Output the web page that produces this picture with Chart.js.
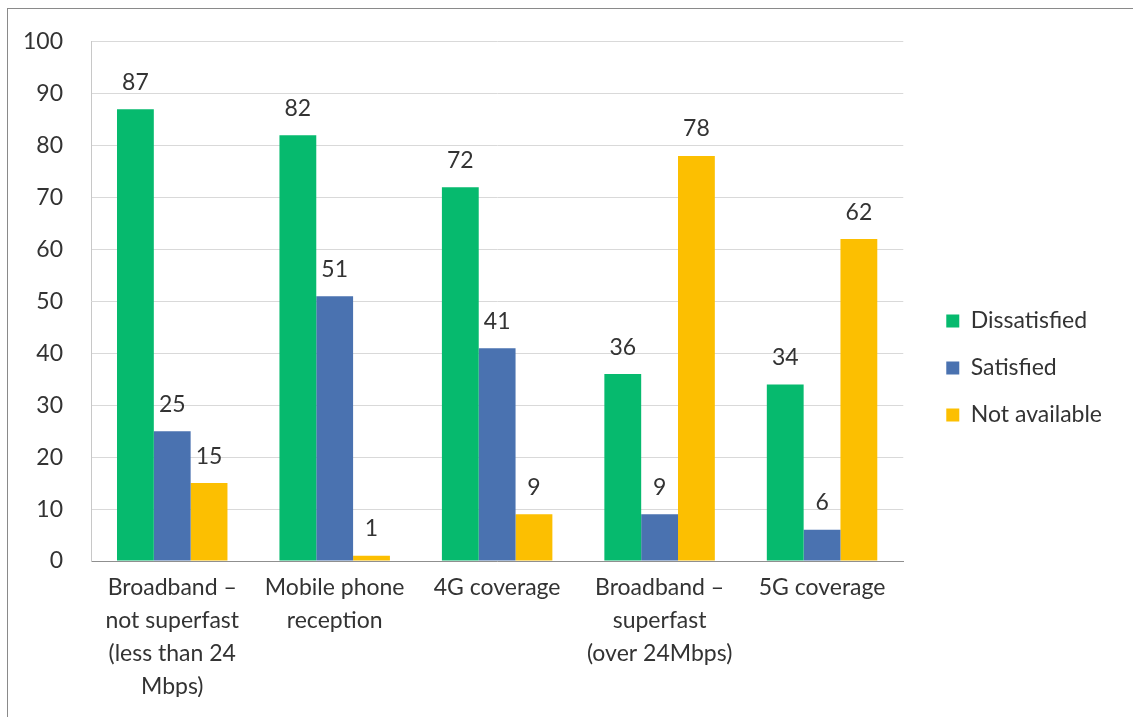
<!DOCTYPE html>
<html>
<head>
<meta charset="utf-8">
<script src="https://cdn.jsdelivr.net/npm/chart.js@4.4.1/dist/chart.umd.min.js"></script>
<style>
  html, body { margin: 0; padding: 0; background: #ffffff; overflow: hidden; }
  #wrap { position: relative; width: 1133px; height: 717px; overflow: hidden; }
  #frame { position: absolute; left: 7px; top: 8px; width: 1400px; height: 1000px; border: 1px solid #8a8a8a; box-sizing: border-box; }
  #c { position: absolute; left: 0; top: 0; }
</style>
</head>
<body>
<div id="wrap">
  <div id="frame"></div>
  <canvas id="c" width="1133" height="717"></canvas>
</div>
<script>
// ---- data ----
const categories = [
  ["Broadband \u2013", "not superfast", "(less than 24", "Mbps)"],
  ["Mobile phone", "reception"],
  ["4G coverage"],
  ["Broadband \u2013", "superfast", "(over 24Mbps)"],
  ["5G coverage"]
];
const seriesNames = ["Dissatisfied", "Satisfied", "Not available"];
const dissatisfied = [87, 82, 72, 36, 34];
const satisfied = [25, 51, 41, 9, 6];
const notAvailable = [15, 1, 9, 78, 62];
const yMin = 0, yMax = 100, yStep = 10;

// ---- styles ----
const FONT = "Lato";
const FS = 23;
const TEXT = "#333333";
const colors = ["#06BA6E", "#4A72B0", "#FCBF01"];

// legend geometry
const legendPad = 24;
const boxW = 13;
const mctx = document.createElement('canvas').getContext('2d');
mctx.font = FS + "px " + FONT;
const maxTextW = Math.max(...seriesNames.map(s => mctx.measureText(s).width));
const legendW = legendPad + boxW + FS / 2 + maxTextW + 10;
const legendLeft = 917;
const padRight = Math.max(0, 1133 - legendLeft - legendW);

const valueLabels = {
  id: 'valueLabels',
  afterDatasetsDraw(chart) {
    const ctx = chart.ctx;
    ctx.save();
    ctx.font = FS + "px " + FONT;
    ctx.fillStyle = TEXT;
    ctx.textAlign = 'center';
    ctx.textBaseline = 'middle';
    chart.data.datasets.forEach((ds, i) => {
      const meta = chart.getDatasetMeta(i);
      meta.data.forEach((bar, j) => {
        ctx.fillText(String(ds.data[j]), bar.x, bar.y - 27);
      });
    });
    ctx.restore();
  }
};

new Chart(document.getElementById('c'), {
  type: 'bar',
  data: {
    labels: categories,
    datasets: [
      { label: seriesNames[0], data: dissatisfied, backgroundColor: colors[0] },
      { label: seriesNames[1], data: satisfied, backgroundColor: colors[1] },
      { label: seriesNames[2], data: notAvailable, backgroundColor: colors[2] }
    ]
  },
  options: {
    responsive: false,
    animation: false,
    devicePixelRatio: 1,
    datasets: { bar: { categoryPercentage: 0.68, barPercentage: 1.0, borderWidth: 0 } },
    layout: { padding: { top: 39, bottom: 20, left: 0, right: padRight } },
    plugins: {
      tooltip: { enabled: false },
      legend: {
        position: 'right',
        align: 'center',
        labels: {
          boxWidth: boxW,
          boxHeight: boxW,
          padding: legendPad,
          color: TEXT,
          font: { family: FONT, size: FS }
        }
      }
    },
    scales: {
      x: {
        grid: { display: false, drawTicks: false },
        border: { display: true, color: '#8f8f8f', width: 1 },
        ticks: {
          color: TEXT,
          padding: 10,
          maxRotation: 0,
          autoSkip: false,
          font: { family: FONT, size: FS, lineHeight: '33px' }
        },
        afterFit(s) { s.height = 136; }
      },
      y: {
        min: yMin,
        max: yMax,
        grid: { color: '#d9d9d9', lineWidth: 1, drawTicks: false },
        border: { display: true, color: '#c8c8c8', width: 1 },
        ticks: {
          stepSize: yStep,
          color: TEXT,
          padding: 28,
          font: { family: FONT, size: FS }
        },
        afterFit(s) { s.width = 91; }
      },
      y2: {
        position: 'right',
        display: true,
        grid: { display: false, drawTicks: false },
        border: { display: false },
        ticks: { display: false },
        afterFit(s) { s.width = 19; }
      }
    }
  },
  plugins: [valueLabels]
});
</script>
</body>
</html>
